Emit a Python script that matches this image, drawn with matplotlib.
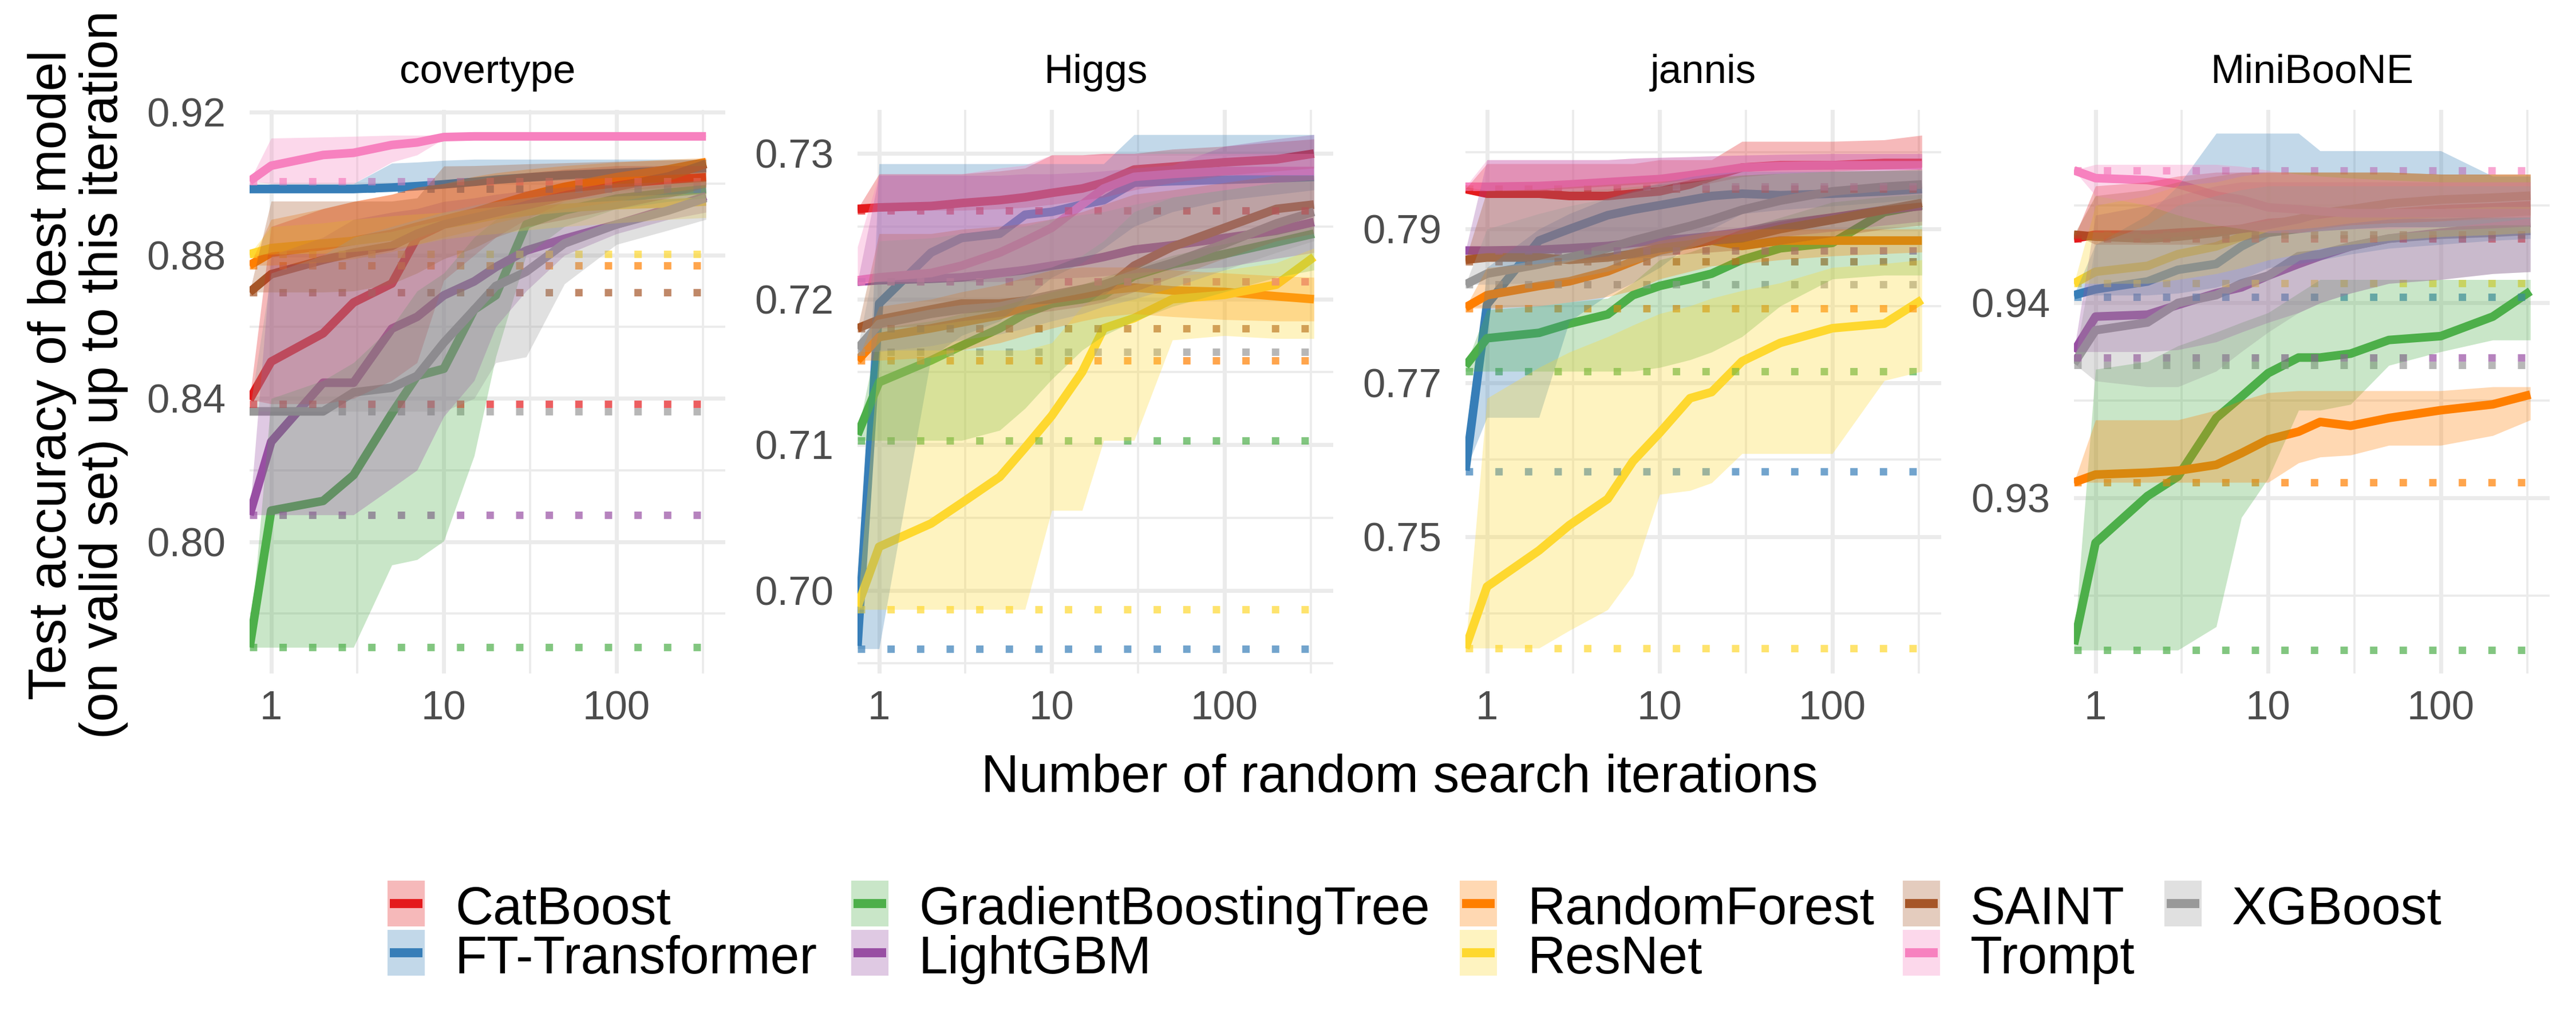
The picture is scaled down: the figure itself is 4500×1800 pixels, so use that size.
import matplotlib
matplotlib.use("Agg")
import matplotlib.pyplot as plt
from matplotlib.patches import Rectangle
from matplotlib.lines import Line2D
import numpy as np

plt.rcParams["font.family"] = ["Liberation Sans", "DejaVu Sans"]

MODELS = ["CatBoost", "FT-Transformer", "GradientBoostingTree", "LightGBM",
          "RandomForest", "ResNet", "SAINT", "Trompt", "XGBoost"]
COLORS = ["#E41A1C", "#377EB8", "#4DAF4A", "#984EA3", "#FF7F00",
          "#FED82F", "#A65628", "#F781BF", "#999999"]

ITERS = [0.75, 1, 2, 3, 5, 7, 10, 15, 20, 30, 50, 100, 200, 330]

# ---- covertype ----
COVERTYPE_MID = [
    [0.8397, 0.8503, 0.8582, 0.8668, 0.8721, 0.8850, 0.8886, 0.8910, 0.8925, 0.8945, 0.8972, 0.8998, 0.9011, 0.9018],
    [0.8985, 0.8985, 0.8985, 0.8985, 0.8989, 0.8993, 0.8998, 0.9005, 0.9011, 0.9017, 0.9024, 0.9030, 0.9036, 0.9044],
    [0.7705, 0.8087, 0.8114, 0.8186, 0.8358, 0.8463, 0.8483, 0.8648, 0.8688, 0.8886, 0.8925, 0.8958, 0.8975, 0.8984],
    [0.8075, 0.8279, 0.8444, 0.8444, 0.8595, 0.8628, 0.8688, 0.8727, 0.8767, 0.8813, 0.8846, 0.8886, 0.8930, 0.8965],
    [0.8772, 0.8807, 0.8826, 0.8840, 0.8860, 0.8880, 0.8899, 0.8920, 0.8939, 0.8965, 0.8991, 0.9018, 0.9040, 0.9060],
    [0.8803, 0.8820, 0.8833, 0.8840, 0.8853, 0.8870, 0.8886, 0.8900, 0.8912, 0.8922, 0.8932, 0.8940, 0.8945, 0.8950],
    [0.8697, 0.8747, 0.8787, 0.8807, 0.8826, 0.8860, 0.8886, 0.8905, 0.8919, 0.8939, 0.8965, 0.8991, 0.9020, 0.9055],
    [0.9007, 0.9050, 0.9080, 0.9086, 0.9108, 0.9115, 0.9130, 0.9132, 0.9132, 0.9132, 0.9132, 0.9132, 0.9132, 0.9132],
    [0.8364, 0.8364, 0.8364, 0.8417, 0.8430, 0.8463, 0.8556, 0.8648, 0.8714, 0.8754, 0.8833, 0.8886, 0.8925, 0.8960],
]
COVERTYPE_LOW = [
    [0.8397, 0.8385, 0.8385, 0.8400, 0.8450, 0.8500, 0.8730, 0.8800, 0.8850, 0.8900, 0.8950, 0.8980, 0.8990, 0.8995],
    [0.8985, 0.8985, 0.8985, 0.8985, 0.8985, 0.8985, 0.8990, 0.8995, 0.9000, 0.9005, 0.9010, 0.9018, 0.9025, 0.9030],
    [0.7705, 0.7705, 0.7705, 0.7705, 0.7935, 0.7950, 0.8002, 0.8240, 0.8516, 0.8800, 0.8880, 0.8930, 0.8950, 0.8960],
    [0.8075, 0.8075, 0.8075, 0.8075, 0.8150, 0.8200, 0.8350, 0.8450, 0.8600, 0.8700, 0.8800, 0.8860, 0.8900, 0.8920],
    [0.8772, 0.8772, 0.8780, 0.8790, 0.8810, 0.8830, 0.8850, 0.8870, 0.8890, 0.8910, 0.8930, 0.8950, 0.8975, 0.8990],
    [0.8803, 0.8803, 0.8805, 0.8810, 0.8820, 0.8830, 0.8845, 0.8855, 0.8860, 0.8870, 0.8880, 0.8890, 0.8900, 0.8905],
    [0.8697, 0.8697, 0.8697, 0.8700, 0.8720, 0.8750, 0.8790, 0.8820, 0.8850, 0.8880, 0.8900, 0.8930, 0.8960, 0.8990],
    [0.9007, 0.9000, 0.9000, 0.9000, 0.9060, 0.9080, 0.9125, 0.9130, 0.9132, 0.9132, 0.9132, 0.9132, 0.9132, 0.9132],
    [0.8364, 0.8364, 0.8364, 0.8364, 0.8364, 0.8364, 0.8364, 0.8400, 0.8500, 0.8516, 0.8720, 0.8830, 0.8870, 0.8900],
]
COVERTYPE_HIGH = [
    [0.8397, 0.8880, 0.8930, 0.8950, 0.8970, 0.8990, 0.9000, 0.9010, 0.9020, 0.9030, 0.9040, 0.9050, 0.9050, 0.9050],
    [0.8985, 0.9000, 0.9000, 0.9000, 0.9057, 0.9060, 0.9065, 0.9068, 0.9068, 0.9068, 0.9068, 0.9068, 0.9068, 0.9068],
    [0.7705, 0.8400, 0.8450, 0.8500, 0.8600, 0.8700, 0.8750, 0.8850, 0.8900, 0.8930, 0.8950, 0.8980, 0.9000, 0.9010],
    [0.8075, 0.8800, 0.8850, 0.8900, 0.8920, 0.8930, 0.8950, 0.8960, 0.8970, 0.8980, 0.8990, 0.9000, 0.9005, 0.9010],
    [0.8772, 0.8900, 0.8930, 0.8950, 0.8970, 0.8990, 0.9000, 0.9020, 0.9030, 0.9040, 0.9050, 0.9060, 0.9068, 0.9072],
    [0.8803, 0.8880, 0.8890, 0.8900, 0.8910, 0.8915, 0.8920, 0.8930, 0.8935, 0.8945, 0.8955, 0.8965, 0.8970, 0.8975],
    [0.8697, 0.8951, 0.8951, 0.8951, 0.8951, 0.8960, 0.9049, 0.9050, 0.9052, 0.9055, 0.9058, 0.9062, 0.9065, 0.9068],
    [0.9007, 0.9127, 0.9130, 0.9132, 0.9135, 0.9135, 0.9135, 0.9135, 0.9135, 0.9135, 0.9135, 0.9135, 0.9135, 0.9135],
    [0.8364, 0.8750, 0.8800, 0.8850, 0.8880, 0.8900, 0.8920, 0.8940, 0.8950, 0.8960, 0.8975, 0.8990, 0.9000, 0.9005],
]
COVERTYPE_DEFAULT = [0.8385, 0.8985, 0.7705, 0.8075, 0.8772, 0.8803, 0.8697, 0.9007, 0.8364]

# ---- Higgs ----
HIGGS_MID = [
    [0.7262, 0.7263, 0.7264, 0.7266, 0.7268, 0.7270, 0.7273, 0.7276, 0.7280, 0.7289, 0.7291, 0.7294, 0.7296, 0.7300],
    [0.6962, 0.7197, 0.7232, 0.7242, 0.7245, 0.7258, 0.7260, 0.7265, 0.7268, 0.7280, 0.7281, 0.7282, 0.7283, 0.7284],
    [0.7107, 0.7143, 0.7158, 0.7168, 0.7180, 0.7190, 0.7197, 0.7200, 0.7203, 0.7216, 0.7224, 0.7231, 0.7239, 0.7245],
    [0.7212, 0.7213, 0.7214, 0.7215, 0.7218, 0.7220, 0.7223, 0.7226, 0.7229, 0.7234, 0.7237, 0.7242, 0.7247, 0.7253],
    [0.7158, 0.7174, 0.7180, 0.7184, 0.7189, 0.7195, 0.7200, 0.7204, 0.7206, 0.7208, 0.7206, 0.7205, 0.7202, 0.7200],
    [0.6989, 0.7030, 0.7046, 0.7060, 0.7078, 0.7098, 0.7120, 0.7150, 0.7180, 0.7187, 0.7200, 0.7203, 0.7210, 0.7229],
    [0.7180, 0.7186, 0.7193, 0.7197, 0.7197, 0.7199, 0.7200, 0.7203, 0.7206, 0.7223, 0.7236, 0.7249, 0.7262, 0.7265],
    [0.7213, 0.7215, 0.7218, 0.7223, 0.7232, 0.7240, 0.7249, 0.7265, 0.7276, 0.7284, 0.7286, 0.7288, 0.7288, 0.7288],
    [0.7166, 0.7183, 0.7190, 0.7193, 0.7195, 0.7199, 0.7203, 0.7207, 0.7210, 0.7217, 0.7225, 0.7238, 0.7252, 0.7260],
]
HIGGS_LOW = [
    [0.7261, 0.7261, 0.7261, 0.7261, 0.7262, 0.7263, 0.7265, 0.7268, 0.7270, 0.7275, 0.7280, 0.7285, 0.7288, 0.7290],
    [0.6960, 0.6960, 0.7160, 0.7175, 0.7185, 0.7200, 0.7215, 0.7225, 0.7235, 0.7250, 0.7260, 0.7268, 0.7272, 0.7275],
    [0.7103, 0.7103, 0.7103, 0.7103, 0.7110, 0.7125, 0.7145, 0.7165, 0.7175, 0.7185, 0.7195, 0.7205, 0.7215, 0.7220],
    [0.7212, 0.7212, 0.7212, 0.7212, 0.7212, 0.7213, 0.7214, 0.7215, 0.7216, 0.7218, 0.7220, 0.7222, 0.7228, 0.7232],
    [0.7158, 0.7158, 0.7160, 0.7165, 0.7170, 0.7175, 0.7180, 0.7185, 0.7188, 0.7190, 0.7188, 0.7186, 0.7185, 0.7185],
    [0.6987, 0.6987, 0.6987, 0.6987, 0.6987, 0.6987, 0.7055, 0.7055, 0.7103, 0.7103, 0.7172, 0.7175, 0.7173, 0.7173],
    [0.7180, 0.7180, 0.7182, 0.7185, 0.7188, 0.7190, 0.7192, 0.7195, 0.7198, 0.7205, 0.7215, 0.7228, 0.7240, 0.7245],
    [0.7212, 0.7212, 0.7212, 0.7213, 0.7215, 0.7218, 0.7222, 0.7230, 0.7240, 0.7260, 0.7270, 0.7275, 0.7280, 0.7282],
    [0.7164, 0.7164, 0.7168, 0.7172, 0.7176, 0.7180, 0.7185, 0.7190, 0.7195, 0.7200, 0.7208, 0.7220, 0.7232, 0.7240],
]
HIGGS_HIGH = [
    [0.7262, 0.7286, 0.7286, 0.7286, 0.7288, 0.7290, 0.7299, 0.7299, 0.7300, 0.7300, 0.7303, 0.7305, 0.7308, 0.7310],
    [0.6962, 0.7293, 0.7293, 0.7293, 0.7293, 0.7293, 0.7293, 0.7293, 0.7293, 0.7313, 0.7313, 0.7313, 0.7313, 0.7313],
    [0.7107, 0.7180, 0.7185, 0.7190, 0.7195, 0.7200, 0.7205, 0.7210, 0.7215, 0.7222, 0.7230, 0.7238, 0.7245, 0.7250],
    [0.7212, 0.7285, 0.7285, 0.7285, 0.7285, 0.7286, 0.7286, 0.7287, 0.7288, 0.7290, 0.7292, 0.7305, 0.7310, 0.7313],
    [0.7158, 0.7195, 0.7200, 0.7205, 0.7210, 0.7215, 0.7220, 0.7222, 0.7222, 0.7222, 0.7220, 0.7218, 0.7216, 0.7215],
    [0.6989, 0.7165, 0.7165, 0.7165, 0.7165, 0.7165, 0.7170, 0.7195, 0.7205, 0.7210, 0.7215, 0.7220, 0.7225, 0.7235],
    [0.7180, 0.7245, 0.7245, 0.7248, 0.7250, 0.7252, 0.7255, 0.7260, 0.7265, 0.7272, 0.7275, 0.7280, 0.7285, 0.7285],
    [0.7236, 0.7286, 0.7286, 0.7286, 0.7290, 0.7292, 0.7299, 0.7299, 0.7300, 0.7300, 0.7300, 0.7300, 0.7300, 0.7300],
    [0.7166, 0.7240, 0.7242, 0.7245, 0.7248, 0.7250, 0.7255, 0.7258, 0.7260, 0.7265, 0.7270, 0.7275, 0.7280, 0.7282],
]
HIGGS_DEFAULT = [0.7261, 0.6960, 0.7103, 0.7212, 0.7158, 0.6987, 0.7180, 0.7212, 0.7164]

# ---- jannis ----
JANNIS_MID = [
    [0.7952, 0.7946, 0.7946, 0.7943, 0.7943, 0.7946, 0.7949, 0.7958, 0.7968, 0.7980, 0.7983, 0.7983, 0.7986, 0.7986],
    [0.7586, 0.7802, 0.7885, 0.7900, 0.7918, 0.7925, 0.7931, 0.7938, 0.7943, 0.7946, 0.7944, 0.7946, 0.7949, 0.7952],
    [0.7722, 0.7758, 0.7765, 0.7777, 0.7789, 0.7814, 0.7826, 0.7835, 0.7842, 0.7860, 0.7875, 0.7882, 0.7922, 0.7931],
    [0.7872, 0.7872, 0.7873, 0.7875, 0.7878, 0.7882, 0.7885, 0.7888, 0.7891, 0.7896, 0.7906, 0.7915, 0.7925, 0.7930],
    [0.7798, 0.7814, 0.7826, 0.7832, 0.7845, 0.7858, 0.7872, 0.7880, 0.7885, 0.7878, 0.7885, 0.7885, 0.7885, 0.7885],
    [0.7355, 0.7435, 0.7482, 0.7515, 0.7549, 0.7598, 0.7635, 0.7680, 0.7688, 0.7728, 0.7752, 0.7771, 0.7777, 0.7808],
    [0.7860, 0.7863, 0.7863, 0.7860, 0.7863, 0.7868, 0.7875, 0.7880, 0.7885, 0.7888, 0.7900, 0.7912, 0.7925, 0.7934],
    [0.7955, 0.7955, 0.7956, 0.7958, 0.7961, 0.7963, 0.7965, 0.7970, 0.7974, 0.7980, 0.7982, 0.7983, 0.7983, 0.7983],
    [0.7828, 0.7842, 0.7854, 0.7863, 0.7875, 0.7885, 0.7894, 0.7904, 0.7912, 0.7925, 0.7937, 0.7949, 0.7955, 0.7958],
]
JANNIS_LOW = [
    [0.7952, 0.7946, 0.7946, 0.7946, 0.7946, 0.7948, 0.7950, 0.7955, 0.7960, 0.7968, 0.7972, 0.7975, 0.7978, 0.7980],
    [0.7586, 0.7655, 0.7655, 0.7780, 0.7814, 0.7830, 0.7850, 0.7880, 0.7900, 0.7920, 0.7925, 0.7930, 0.7935, 0.7940],
    [0.7715, 0.7715, 0.7715, 0.7715, 0.7715, 0.7715, 0.7720, 0.7730, 0.7740, 0.7760, 0.7800, 0.7835, 0.7840, 0.7840],
    [0.7872, 0.7872, 0.7872, 0.7872, 0.7872, 0.7874, 0.7876, 0.7878, 0.7880, 0.7884, 0.7890, 0.7897, 0.7905, 0.7910],
    [0.7797, 0.7797, 0.7800, 0.7805, 0.7812, 0.7820, 0.7835, 0.7845, 0.7852, 0.7855, 0.7860, 0.7865, 0.7868, 0.7870],
    [0.7355, 0.7355, 0.7355, 0.7378, 0.7405, 0.7450, 0.7555, 0.7560, 0.7570, 0.7608, 0.7608, 0.7608, 0.7703, 0.7715],
    [0.7860, 0.7860, 0.7860, 0.7860, 0.7860, 0.7862, 0.7865, 0.7868, 0.7870, 0.7873, 0.7880, 0.7890, 0.7900, 0.7905],
    [0.7955, 0.7950, 0.7950, 0.7950, 0.7952, 0.7955, 0.7958, 0.7962, 0.7965, 0.7970, 0.7973, 0.7975, 0.7976, 0.7977],
    [0.7828, 0.7828, 0.7830, 0.7835, 0.7845, 0.7855, 0.7865, 0.7875, 0.7885, 0.7900, 0.7910, 0.7922, 0.7930, 0.7935],
]
JANNIS_HIGH = [
    [0.7952, 0.7985, 0.7985, 0.7985, 0.7985, 0.7985, 0.7990, 0.7990, 0.7990, 0.8014, 0.8014, 0.8014, 0.8016, 0.8022],
    [0.7586, 0.7850, 0.7900, 0.7920, 0.7940, 0.7950, 0.7960, 0.7968, 0.7972, 0.7975, 0.7975, 0.7975, 0.7976, 0.7976],
    [0.7722, 0.7795, 0.7800, 0.7805, 0.7810, 0.7830, 0.7860, 0.7870, 0.7880, 0.7900, 0.7915, 0.7935, 0.7942, 0.7945],
    [0.7872, 0.7990, 0.7990, 0.7990, 0.7990, 0.7992, 0.7993, 0.7994, 0.7995, 0.7996, 0.7997, 0.7998, 0.7998, 0.7998],
    [0.7798, 0.7850, 0.7855, 0.7860, 0.7865, 0.7875, 0.7885, 0.7892, 0.7897, 0.7900, 0.7900, 0.7900, 0.7900, 0.7900],
    [0.7355, 0.7680, 0.7720, 0.7740, 0.7760, 0.7775, 0.7790, 0.7800, 0.7810, 0.7820, 0.7830, 0.7850, 0.7855, 0.7860],
    [0.7860, 0.7950, 0.7952, 0.7955, 0.7958, 0.7960, 0.7962, 0.7965, 0.7968, 0.7970, 0.7972, 0.7975, 0.7976, 0.7978],
    [0.7955, 0.7990, 0.7990, 0.7990, 0.7990, 0.7992, 0.7993, 0.7994, 0.7995, 0.7996, 0.7997, 0.7998, 0.7998, 0.7998],
    [0.7828, 0.7900, 0.7920, 0.7930, 0.7940, 0.7948, 0.7955, 0.7960, 0.7965, 0.7970, 0.7972, 0.7975, 0.7976, 0.7977],
]
JANNIS_DEFAULT = [0.7952, 0.7585, 0.7715, 0.7872, 0.7797, 0.7355, 0.7858, 0.7955, 0.7828]

# ---- MiniBooNE ----
MINIBOONE_MID = [
    [0.9433, 0.9435, 0.9435, 0.9436, 0.9437, 0.9438, 0.9441, 0.9442, 0.9443, 0.9445, 0.9446, 0.9448, 0.9449, 0.9450],
    [0.9404, 0.9407, 0.9411, 0.9417, 0.9420, 0.9429, 0.9436, 0.9438, 0.9439, 0.9440, 0.9441, 0.9441, 0.9442, 0.9442],
    [0.9225, 0.9277, 0.9301, 0.9311, 0.9341, 0.9352, 0.9364, 0.9372, 0.9372, 0.9374, 0.9381, 0.9383, 0.9393, 0.9406],
    [0.9375, 0.9393, 0.9394, 0.9399, 0.9405, 0.9408, 0.9414, 0.9420, 0.9424, 0.9429, 0.9433, 0.9436, 0.9439, 0.9441],
    [0.9308, 0.9312, 0.9313, 0.9314, 0.9317, 0.9323, 0.9330, 0.9334, 0.9339, 0.9337, 0.9341, 0.9345, 0.9348, 0.9353],
    [0.9410, 0.9416, 0.9419, 0.9425, 0.9429, 0.9434, 0.9439, 0.9440, 0.9441, 0.9443, 0.9445, 0.9446, 0.9447, 0.9447],
    [0.9435, 0.9434, 0.9433, 0.9434, 0.9436, 0.9438, 0.9440, 0.9443, 0.9446, 0.9448, 0.9451, 0.9453, 0.9454, 0.9455],
    [0.9468, 0.9464, 0.9463, 0.9461, 0.9455, 0.9453, 0.9449, 0.9448, 0.9447, 0.9446, 0.9446, 0.9446, 0.9446, 0.9446],
    [0.9369, 0.9386, 0.9390, 0.9400, 0.9404, 0.9410, 0.9414, 0.9424, 0.9425, 0.9429, 0.9433, 0.9435, 0.9436, 0.9437],
]
MINIBOONE_LOW = [
    [0.9433, 0.9433, 0.9433, 0.9434, 0.9435, 0.9436, 0.9437, 0.9438, 0.9439, 0.9440, 0.9441, 0.9442, 0.9443, 0.9444],
    [0.9404, 0.9404, 0.9404, 0.9405, 0.9408, 0.9412, 0.9418, 0.9420, 0.9422, 0.9425, 0.9428, 0.9430, 0.9432, 0.9433],
    [0.9222, 0.9222, 0.9222, 0.9222, 0.9234, 0.9290, 0.9310, 0.9345, 0.9345, 0.9348, 0.9368, 0.9375, 0.9381, 0.9381],
    [0.9375, 0.9375, 0.9375, 0.9376, 0.9380, 0.9385, 0.9390, 0.9395, 0.9400, 0.9405, 0.9410, 0.9412, 0.9415, 0.9416],
    [0.9308, 0.9308, 0.9308, 0.9308, 0.9308, 0.9308, 0.9308, 0.9318, 0.9321, 0.9322, 0.9327, 0.9327, 0.9332, 0.9340],
    [0.9410, 0.9410, 0.9410, 0.9412, 0.9415, 0.9418, 0.9422, 0.9425, 0.9428, 0.9430, 0.9432, 0.9434, 0.9435, 0.9436],
    [0.9435, 0.9430, 0.9430, 0.9430, 0.9430, 0.9432, 0.9434, 0.9436, 0.9438, 0.9440, 0.9441, 0.9442, 0.9444, 0.9445],
    [0.9468, 0.9455, 0.9450, 0.9445, 0.9440, 0.9438, 0.9436, 0.9436, 0.9437, 0.9438, 0.9438, 0.9439, 0.9440, 0.9440],
    [0.9369, 0.9360, 0.9357, 0.9357, 0.9365, 0.9375, 0.9385, 0.9395, 0.9400, 0.9405, 0.9410, 0.9412, 0.9415, 0.9416],
]
MINIBOONE_HIGH = [
    [0.9433, 0.9460, 0.9462, 0.9465, 0.9467, 0.9467, 0.9467, 0.9467, 0.9467, 0.9467, 0.9467, 0.9466, 0.9466, 0.9466],
    [0.9404, 0.9430, 0.9445, 0.9460, 0.9487, 0.9487, 0.9487, 0.9487, 0.9478, 0.9478, 0.9478, 0.9478, 0.9465, 0.9465],
    [0.9225, 0.9366, 0.9370, 0.9378, 0.9385, 0.9390, 0.9395, 0.9405, 0.9412, 0.9412, 0.9412, 0.9412, 0.9412, 0.9412],
    [0.9375, 0.9445, 0.9450, 0.9455, 0.9460, 0.9462, 0.9462, 0.9462, 0.9462, 0.9462, 0.9462, 0.9462, 0.9462, 0.9462],
    [0.9308, 0.9340, 0.9340, 0.9340, 0.9345, 0.9350, 0.9354, 0.9355, 0.9355, 0.9355, 0.9355, 0.9355, 0.9357, 0.9357],
    [0.9410, 0.9450, 0.9455, 0.9460, 0.9462, 0.9465, 0.9467, 0.9467, 0.9467, 0.9467, 0.9467, 0.9466, 0.9466, 0.9466],
    [0.9435, 0.9455, 0.9458, 0.9462, 0.9465, 0.9467, 0.9467, 0.9467, 0.9467, 0.9467, 0.9467, 0.9466, 0.9466, 0.9466],
    [0.9468, 0.9471, 0.9471, 0.9471, 0.9471, 0.9470, 0.9468, 0.9466, 0.9465, 0.9464, 0.9463, 0.9462, 0.9462, 0.9462],
    [0.9369, 0.9430, 0.9440, 0.9450, 0.9455, 0.9458, 0.9460, 0.9460, 0.9460, 0.9460, 0.9460, 0.9460, 0.9460, 0.9460],
]
MINIBOONE_DEFAULT = [0.9433, 0.9403, 0.9222, 0.9372, 0.9308, 0.9410, 0.9435, 0.9468, 0.9368]

PANEL_NAMES = ["covertype", "Higgs", "jannis", "MiniBooNE"]
Y_LIMITS = [(0.7632, 0.9206), (0.6943, 0.7330), (0.7322, 0.8055), (0.9210, 0.9499)]
Y_MAJOR = [[0.80, 0.84, 0.88, 0.92], [0.70, 0.71, 0.72, 0.73],
           [0.75, 0.77, 0.79], [0.93, 0.94]]
Y_MINOR = [[0.78, 0.82, 0.86, 0.90], [0.695, 0.705, 0.715, 0.725],
           [0.74, 0.76, 0.78, 0.80], [0.925, 0.935, 0.945]]
Y_LABELS = [["0.80", "0.84", "0.88", "0.92"], ["0.70", "0.71", "0.72", "0.73"],
            ["0.75", "0.77", "0.79"], ["0.93", "0.94"]]

PANEL_DATA = [
    (COVERTYPE_MID, COVERTYPE_LOW, COVERTYPE_HIGH, COVERTYPE_DEFAULT),
    (HIGGS_MID, HIGGS_LOW, HIGGS_HIGH, HIGGS_DEFAULT),
    (JANNIS_MID, JANNIS_LOW, JANNIS_HIGH, JANNIS_DEFAULT),
    (MINIBOONE_MID, MINIBOONE_LOW, MINIBOONE_HIGH, MINIBOONE_DEFAULT),
]

GRID = "#EBEBEB"
W, H = 4500, 1800


def draw_panel(ax, k):
    mid, low, high, default = PANEL_DATA[k]
    x = np.array(ITERS)

    # lines first, ribbons on top (as in the original)
    for i, color in enumerate(COLORS):
        ax.plot(x, mid[i], color=color, lw=3.6, solid_capstyle="butt", zorder=2)
    for i, color in enumerate(COLORS):
        ax.plot([x[0], x[-1]], [default[i], default[i]], color=color, lw=3.1,
                alpha=0.7, dashes=(1, 3), dash_capstyle="butt", zorder=2.5)
    for i, color in enumerate(COLORS):
        ax.fill_between(x, low[i], high[i], color=color, alpha=0.3, lw=0, zorder=3)

    ax.set_xscale("log")
    ax.set_xlim(0.75, 427)
    ax.set_ylim(*Y_LIMITS[k])
    ax.set_xticks([1, 10, 100])
    ax.set_xticklabels(["1", "10", "100"])
    ax.set_xticks([10 ** 0.5, 10 ** 1.5, 10 ** 2.5], minor=True)
    ax.set_yticks(Y_MAJOR[k])
    ax.set_yticklabels(Y_LABELS[k])
    ax.set_yticks(Y_MINOR[k], minor=True)
    ax.xaxis.set_minor_formatter(plt.NullFormatter())

    ax.grid(which="major", color=GRID, lw=1.7, zorder=0)
    ax.grid(which="minor", color=GRID, lw=0.9, zorder=0)
    ax.set_axisbelow(True)
    for s in ax.spines.values():
        s.set_visible(False)
    ax.tick_params(which="both", length=0, labelsize=17, labelcolor="#4D4D4D")
    ax.tick_params(axis="x", pad=7)
    ax.tick_params(axis="y", pad=10)
    ax.text(0.5, 1.048, PANEL_NAMES[k], transform=ax.transAxes, ha="center",
            va="baseline", fontsize=17, color="black")


fig = plt.figure(figsize=(W / 300, H / 300), dpi=300)

panel_left = [436, 1498, 2560, 3623]
panel_w = 831
top, bottom = 192, 1177
for k, left in enumerate(panel_left):
    ax = fig.add_axes([left / W, 1 - bottom / H, panel_w / W, (bottom - top) / H])
    draw_panel(ax, k)

fig.text(2445 / W, 1 - 1360 / H, "Number of random search iterations",
         ha="center", va="center", fontsize=22)
fig.text(136 / W, 1 - 655 / H,
         "Test accuracy of best model\n(on valid set) up to this iteration",
         rotation=90, ha="center", va="center", multialignment="center",
         fontsize=22, linespacing=1.05)

# legend drawn by hand to match the ggplot key layout
col_left = [677, 1487, 2550, 3324, 3781]
row_top = [1539, 1625]
key_w, key_h = 65, 80
for i, (name, color) in enumerate(zip(MODELS, COLORS)):
    c, r = i // 2, i % 2
    kx, ky = col_left[c], row_top[r]
    fig.patches.append(Rectangle((kx / W, 1 - (ky + key_h) / H), key_w / W, key_h / H,
                                 transform=fig.transFigure, facecolor=color,
                                 alpha=0.3, lw=0))
    yc = 1 - (ky + key_h / 2) / H
    fig.lines.append(Line2D([(kx + 4) / W, (kx + key_w - 4) / W], [yc, yc],
                            transform=fig.transFigure, color=color, lw=3.8,
                            solid_capstyle="butt"))
    fig.text((kx + 118) / W, 1 - (ky + key_h - 4) / H, name,
             ha="left", va="baseline", fontsize=22)

fig.savefig("out.png", dpi=300, facecolor="white")
